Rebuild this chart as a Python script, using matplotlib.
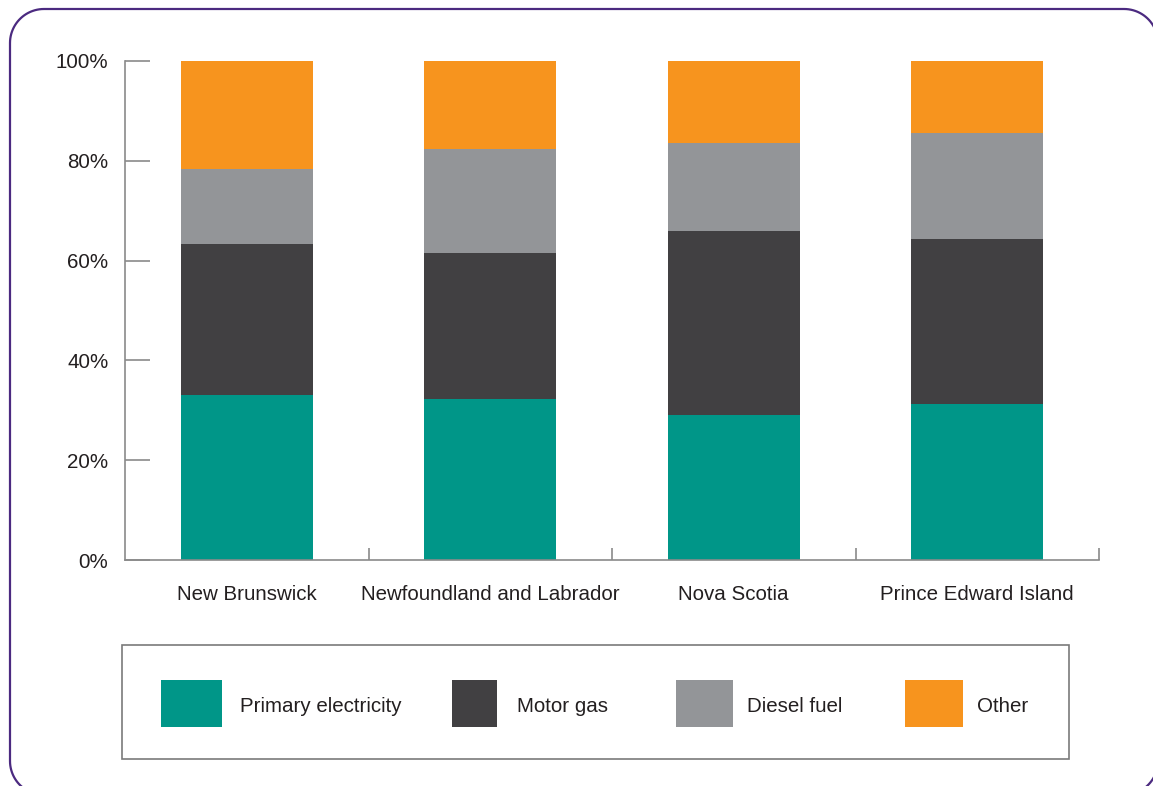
import matplotlib
matplotlib.use("Agg")
import matplotlib.pyplot as plt
import numpy as np
from matplotlib.patches import Rectangle, Polygon
from matplotlib.transforms import IdentityTransform
from matplotlib.ticker import FuncFormatter

plt.rcParams['font.family'] = ['Liberation Sans', 'DejaVu Sans']

# share of energy use by province (fraction of total)
provinces = ["New Brunswick", "Newfoundland and Labrador", "Nova Scotia", "Prince Edward Island"]
fuels = ["Primary electricity", "Motor gas", "Diesel fuel", "Other"]
primary_electricity = [0.331, 0.323, 0.291, 0.313]
motor_gas = [0.302, 0.292, 0.368, 0.330]
diesel_fuel = [0.151, 0.209, 0.177, 0.213]
other = [0.216, 0.176, 0.164, 0.144]
colors = ["#009688", "#414042", "#939598", "#f7941e"]

W, H = 1153, 786
FS = 14.8
TXT = "#231f20"
fig = plt.figure(figsize=(W / 100, H / 100), dpi=100)


def fx(px):
    return px / W


def fy(py):
    return 1 - py / H


def rounded_rect(x0, y0, x1, y1, r, n=24):
    # corner arcs as plain line segments, counter-clockwise from bottom-right
    pts = []
    corners = [(x1 - r, y0 + r, -90), (x1 - r, y1 - r, 0),
               (x0 + r, y1 - r, 90), (x0 + r, y0 + r, 180)]
    for cx, cy, a0 in corners:
        t = np.radians(np.linspace(a0, a0 + 90, n))
        pts += list(zip(cx + r * np.cos(t), cy + r * np.sin(t)))
    return np.array(pts)


# rounded frame, drawn in pixels (origin bottom-left)
frame = Polygon(rounded_rect(10, H - 795, 1158, H - 9, 34), closed=True,
                transform=IdentityTransform(), fill=False,
                edgecolor="#4b2a80", linewidth=1.6, clip_on=False)
fig.add_artist(frame)

ax = fig.add_axes([fx(125), fy(560), fx(1099) - fx(125), fy(61) - fy(560)])

x = np.arange(len(provinces))
series = [primary_electricity, motor_gas, diesel_fuel, other]
bottom = np.zeros(len(provinces))
for vals, c in zip(series, colors):
    ax.bar(x, vals, width=0.542, bottom=bottom, color=c, linewidth=0)
    bottom += np.array(vals)

ax.set_xlim(-0.5, 3.5)
ax.set_ylim(0, 1)
ax.set_yticks(np.arange(0, 1.01, 0.2))
ax.yaxis.set_major_formatter(FuncFormatter(lambda y, p: '%d%%' % round(100 * y)))
ax.tick_params(axis='y', direction='in', length=18, width=1.2, color="#8a8a8a",
               labelsize=FS, pad=12, labelcolor=TXT)

# boundary ticks on the category axis, names on minor ticks at bar centres
ax.set_xticks(x + 0.5)
ax.set_xticklabels([])
ax.set_xticks(x, minor=True)
ax.set_xticklabels(provinces, minor=True)
ax.tick_params(axis='x', which='major', direction='in', length=9, width=1.2, color="#8a8a8a")
ax.tick_params(axis='x', which='minor', length=0, labelsize=FS, pad=18, labelcolor=TXT)

for s in ['top', 'right']:
    ax.spines[s].set_visible(False)
for s in ['left', 'bottom']:
    ax.spines[s].set_color("#8a8a8a")
    ax.spines[s].set_linewidth(1.2)

# legend box
fig.add_artist(Rectangle((fx(122), fy(759)), fx(1069) - fx(122), fy(645) - fy(759),
                         transform=fig.transFigure, fill=False,
                         edgecolor="#7a7a7a", linewidth=1.2))
swatches = [(161, 222), (452, 497), (676, 733), (905, 963)]
text_x = [240, 517, 747, 977]
for (x0, x1), tx, lab, c in zip(swatches, text_x, fuels, colors):
    fig.add_artist(Rectangle((fx(x0), fy(727)), fx(x1) - fx(x0), fy(680) - fy(727),
                             transform=fig.transFigure, facecolor=c, linewidth=0))
    fig.text(fx(tx), fy(706), lab, fontsize=FS, color=TXT,
             ha='left', va='center')

fig.savefig("out.png", dpi=100)
